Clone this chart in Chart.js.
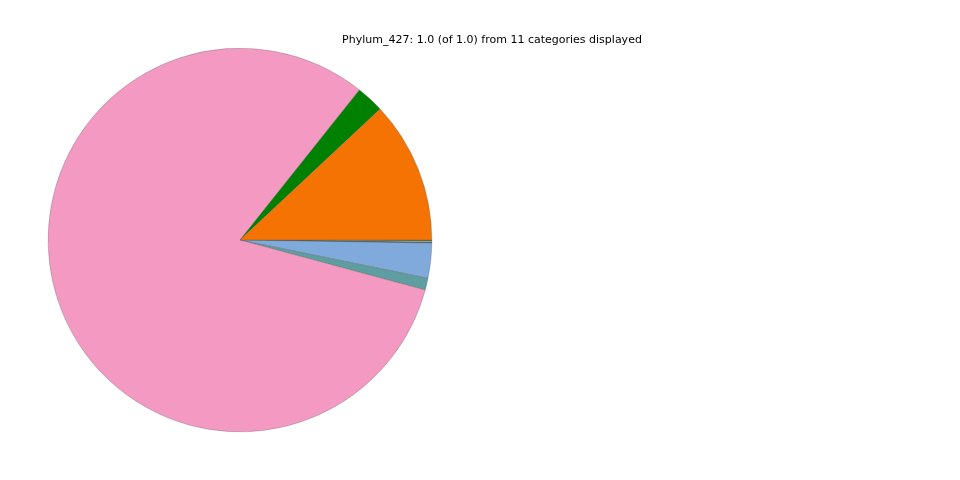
<!DOCTYPE html>
<html>
<head>
<meta charset="utf-8">
<script src="https://cdn.jsdelivr.net/npm/chart.js@4"></script>
<style>
  body { margin: 0; background: #fff; }
  #wrap { position: relative; width: 960px; height: 480px; }
  #titulo {
    position: absolute; left: 0; width: 984px; top: 33px;
    text-align: center; font-family: "DejaVu Sans", sans-serif; font-size: 11px; color: #000;
  }
</style>
</head>
<body>
<div id="wrap">
  <canvas id="pizza" width="960" height="480"></canvas>
  <div id="titulo">Phylum_427: 1.0 (of 1.0) from 11 categories displayed</div>
</div>
<script>
// ordem como no matplotlib (anti-horario a partir das 3h)
const categorias = ["Cat 1", "Cat 2", "Cat 3", "Cat 4", "Cat 5", "Cat 6", "Cat 7", "Cat 8", "Cat 9", "Cat 10", "Cat 11"];
const valores = [0.1197, 0.0233, 0.8150, 0.0100, 0.0294, 0.0001, 0.0002, 0.0004, 0.0011, 0.0003, 0.0005];
const cores = ["#f47302", "#008000", "#f49ac2", "#5f9ea0", "#7faadb", "#b0b0b0", "#6a5acd", "#404040", "#8fd19e", "#505050", "#6b4f3a"];

// chart.js desenha no sentido horario, entao inverte
const labels = categorias.slice().reverse();
const data = valores.slice().reverse();
const bg = cores.slice().reverse();

new Chart(document.getElementById("pizza"), {
  type: "pie",
  data: {
    labels: labels,
    datasets: [{
      data: data,
      backgroundColor: bg,
      borderColor: "#555555",
      borderWidth: 0.3
    }]
  },
  options: {
    responsive: false,
    animation: false,
    rotation: 90,
    layout: { padding: { left: 48, right: 528, top: 48, bottom: 48 } },
    plugins: {
      legend: { display: false },
      tooltip: { enabled: false },
      title: { display: false }
    }
  }
});
</script>
</body>
</html>
